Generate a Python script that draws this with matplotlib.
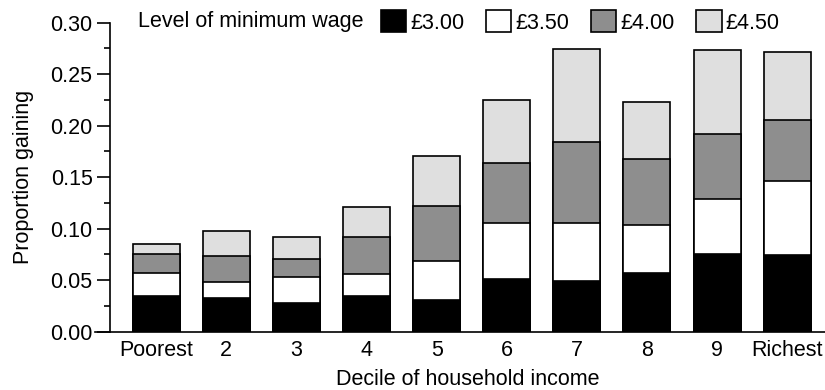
import numpy as np
import matplotlib.pyplot as plt
from matplotlib.patches import Patch
from matplotlib.ticker import MultipleLocator

plt.rcParams["font.family"] = ["Liberation Sans", "DejaVu Sans"]
plt.rcParams["font.size"] = 15.5

deciles = ["Poorest", "2", "3", "4", "5", "6", "7", "8", "9", "Richest"]
wage_levels = ["£3.00", "£3.50", "£4.00", "£4.50"]

# proportion of households gaining at each minimum wage level (cumulative)
gain_300 = [0.034, 0.033, 0.028, 0.034, 0.031, 0.051, 0.049, 0.057, 0.075, 0.074]
gain_350 = [0.057, 0.048, 0.053, 0.056, 0.068, 0.105, 0.105, 0.103, 0.129, 0.146]
gain_400 = [0.075, 0.073, 0.070, 0.092, 0.122, 0.164, 0.184, 0.168, 0.192, 0.205]
gain_450 = [0.085, 0.098, 0.092, 0.121, 0.170, 0.225, 0.274, 0.223, 0.273, 0.271]

colours = ["#000000", "#ffffff", "#8e8e8e", "#dfdfdf"]


def main():
    fig = plt.figure(figsize=(8.25, 3.9), dpi=100)
    ax = fig.add_axes([0.1333, 0.15, 0.8667, 0.792])

    x = np.arange(len(deciles))
    series = [gain_300, gain_350, gain_400, gain_450]
    # draw the highest wage level first so each lower level sits in front
    for vals, col in reversed(list(zip(series, colours))):
        ax.bar(x, vals, width=0.67, color=col, edgecolor="black", linewidth=1.2)

    ax.set_xlim(-0.66, 9.54)
    ax.set_ylim(0, 0.30)
    ax.set_xticks(x)
    ax.set_xticklabels(deciles)
    ax.tick_params(axis="x", length=0, pad=6)
    ax.yaxis.set_major_locator(MultipleLocator(0.05))
    ax.yaxis.set_minor_locator(MultipleLocator(0.025))
    ax.yaxis.set_major_formatter(lambda v, p: f"{v:.2f}")
    ax.tick_params(axis="y", which="major", length=9.5, width=1.2, pad=3)
    ax.tick_params(axis="y", which="minor", length=4, width=1.2)
    for side in ["top", "right"]:
        ax.spines[side].set_visible(False)
    ax.spines["left"].set_linewidth(1.2)
    ax.spines["bottom"].set_linewidth(1.2)
    ax.spines["bottom"].set_bounds(-0.88, 9.54)

    ax.set_ylabel("Proportion gaining", labelpad=12)
    ax.set_xlabel("Decile of household income", labelpad=6)

    fig.text(138 / 825, 1 - 22 / 390, "Level of minimum wage", ha="left", va="center")
    handles = [Patch(facecolor=c, edgecolor="black", linewidth=1.2) for c in colours]
    fig.legend(handles, wage_levels, ncol=4, frameon=False,
               loc="center left", bbox_to_anchor=(381 / 825, 1 - 22 / 390),
               borderpad=0, borderaxespad=0, handlelength=1.17, handleheight=1.2,
               handletextpad=0.2, columnspacing=1.0)

    fig.savefig("out.png", dpi=100)


if __name__ == "__main__":
    main()
